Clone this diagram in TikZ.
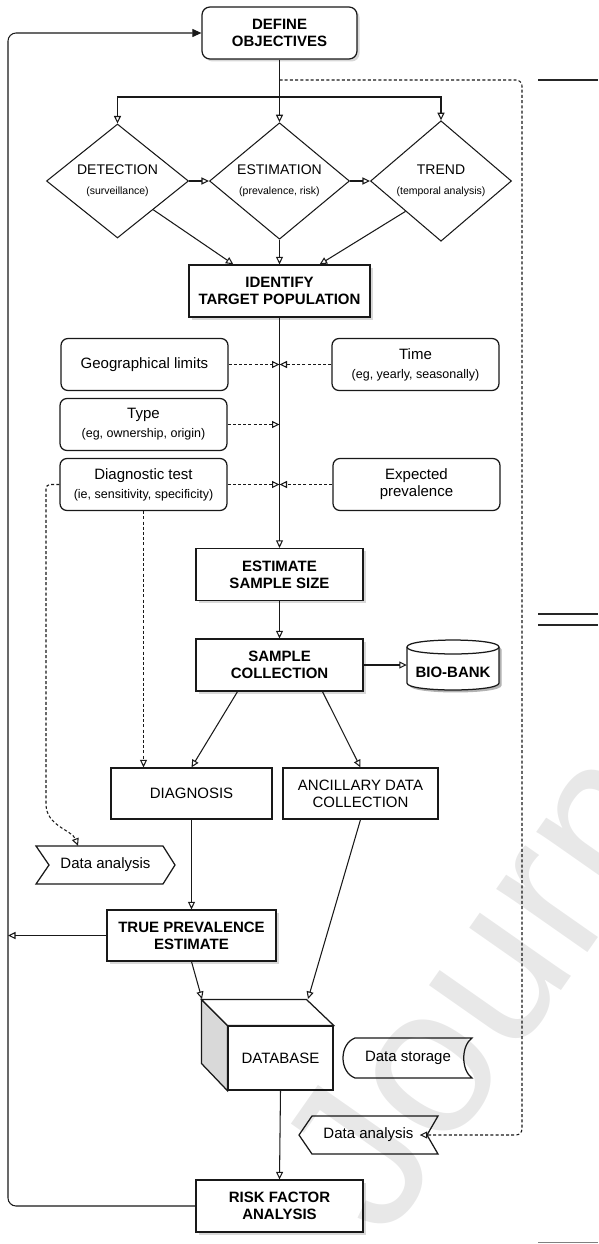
\documentclass[tikz,border=0pt]{standalone}
\usepackage{fontspec}
\setmainfont{Liberation Sans}
\usetikzlibrary{arrows.meta,shapes.geometric,shadows}
\newcommand\fmain{\fontsize{15}{17}\selectfont}
\newcommand\fsub{\fontsize{12.5}{14}\selectfont}
\newcommand\fdia{\fontsize{14}{16}\selectfont}
\newcommand\fdsub{\fontsize{10.5}{12}\selectfont}
\begin{document}
\begin{tikzpicture}[x=1pt,y=-1pt,
 ln/.style={line width=1.05pt, draw=black!90},
 box/.style={line width=1.25pt, draw=black!90, fill=white, minimum width=167pt, minimum height=52pt, inner sep=1pt, align=center, font=\fmain},
 shd/.style={drop shadow={shadow xshift=2.5pt, shadow yshift=-2.5pt, fill=black!30}},
 bbox/.style={box, shd, font=\fmain\bfseries},
 rbox/.style={box, rounded corners=7pt},
 dia/.style={ln, diamond, fill=white, minimum width=142pt, minimum height=114pt, inner sep=0pt, align=center, font=\fdia},
 con/.style={ln, -{Triangle[open, length=7.5pt, width=7pt]}},
 dcon/.style={con, dash pattern=on 3pt off 2.2pt},
 shp/.style={minimum width=139pt, minimum height=38pt, inner sep=0pt, font=\fmain},
]
\useasboundingbox[fill=white] (0,0) rectangle (598,1244);

% ---- nodes ----
\node[bbox, rounded corners=8pt, minimum width=155pt] (def) at (279.5,33) {DEFINE\\OBJECTIVES};
\node[dia] (det) at (117.5,181) {DETECTION\\[4pt]{\fdsub (surveillance)}};
\node[dia, minimum width=140pt] (esti) at (279.5,181) {ESTIMATION\\[4pt]{\fdsub (prevalence, risk)}};
\node[dia, minimum width=141pt] (trd) at (441,181) {TREND\\[4pt]{\fdsub (temporal analysis)}};
\node[bbox, minimum width=181pt] (idt) at (279.5,291) {IDENTIFY\\TARGET POPULATION};
\node[rbox] (geo) at (144.5,364.5) {Geographical limits};
\node[rbox] (tim) at (415.5,364.5) {Time\\[2pt]{\fsub (eg, yearly, seasonally)}};
\node[rbox] (typ) at (143.5,424.5) {Type\\[2pt]{\fsub (eg, ownership, origin)}};
\node[rbox] (dtest) at (143.5,484.5) {Diagnostic test\\[2pt]{\fsub (ie, sensitivity, specificity)}};
\node[rbox] (expv) at (416.5,484.5) {Expected\\prevalence};
\node[bbox] (ess) at (279.5,574.5) {ESTIMATE\\SAMPLE SIZE};
\node[bbox] (smp) at (279.5,665) {SAMPLE\\COLLECTION};

% bio-bank cylinder
\fill[black!30] (409.5,649.5) -- (409.5,685.5) .. controls (409.5,694.8) and (501.5,694.8) .. (501.5,685.5) -- (501.5,649.5) .. controls (501.5,640.2) and (409.5,640.2) .. (409.5,649.5) -- cycle;
\draw[line width=1.25pt, draw=black!90, fill=white] (407,647) -- (407,683) .. controls (407,692.3) and (499,692.3) .. (499,683) -- (499,647) .. controls (499,637.7) and (407,637.7) .. (407,647) -- cycle;
\draw[line width=1.25pt, draw=black!90] (407,647) .. controls (407,656.3) and (499,656.3) .. (499,647);
\node[minimum width=92pt, minimum height=40pt, inner sep=0pt, font=\fmain\bfseries] (bio) at (453,672) {BIO-BANK};

\node[box, minimum width=161pt, minimum height=51pt] (dgn) at (191.5,793.5) {DIAGNOSIS};
\node[box, minimum width=155pt, minimum height=51pt] (anc) at (360.5,793.5) {ANCILLARY DATA\\COLLECTION};

% data analysis (left)
\draw[line width=1.25pt, draw=black!90, fill=white] (36,846) -- (163,846) -- (175,865) -- (163,884) -- (36,884) -- (49,865) -- cycle;
\node[shp] (da1) at (105.5,865) {Data analysis};

\node[bbox, minimum width=169pt, minimum height=51pt] (tpe) at (191.5,935.5) {TRUE PREVALENCE\\ESTIMATE};

% database cube
\node[box, minimum width=105pt, minimum height=64pt] (db) at (280.5,1058) {DATABASE};
\draw[line width=1.25pt, draw=black!90, fill=black!15] (db.north west) -- ++(-26,-26) -- ++(0,64) -- (db.south west) -- cycle;
\draw[line width=1.25pt, draw=black!90, fill=white] (db.north west) -- ++(-26,-26) -- ++(105,0) -- (db.north east) -- cycle;
\coordinate (dbtl) at (202,999);
\coordinate (dbtr) at (308,999);

% data storage
\draw[line width=1.25pt, draw=black!90, fill=white] (355,1038) -- (472,1038) .. controls (461,1046) and (461,1070) .. (472,1078) -- (355,1078) .. controls (339,1072) and (339,1044) .. (355,1038) -- cycle;
\node[font=\fmain, inner sep=0pt] (ds) at (408,1058) {Data storage};

% data analysis (bottom)
\draw[line width=1.25pt, draw=black!90, fill=white] (312,1116) -- (438,1116) -- (427,1135) -- (438,1154) -- (312,1154) -- (299,1135) -- cycle;
\node[shp, minimum width=126pt] (da2) at (368.5,1135) {Data analysis};

\node[bbox] (rfa) at (279.5,1206) {RISK FACTOR\\ANALYSIS};

% ---- connectors ----
\coordinate (split) at (279.5,97);
\coordinate (dsplit) at (279.5,80);
\draw[con] (def.south) -- (esti.north);
\draw[con] (split) -| (det.north);
\draw[con] (split) -| (trd.north);
\draw[con] (det.east) -- (esti.west);
\draw[con] (esti.east) -- (trd.west);
\draw[con] (det.south east) -- ([xshift=45pt]idt.north west);
\draw[con] (esti.south) -- (idt.north);
\draw[con] (trd.south west) -- ([xshift=-51pt]idt.north east);
\draw[con] (idt.south) -- (ess.north);
\draw[dcon] (geo.east) -- (geo.east -| idt.south);
\draw[dcon] (tim.west) -- (tim.west -| idt.south);
\draw[dcon] (typ.east) -- (typ.east -| idt.south);
\draw[dcon] (dtest.east) -- (dtest.east -| idt.south);
\draw[dcon] (expv.west) -- (expv.west -| idt.south);
\draw[con] (ess.south) -- (smp.north);
\draw[con] (smp.east) -- (smp.east -| bio.west);
\draw[con] ([xshift=-42pt]smp.south) -- (dgn.north);
\draw[con] ([xshift=43pt]smp.south) -- (anc.north);
\draw[dcon] (dtest.south) -- (dtest.south |- dgn.north);
\coordinate (c1) at (46,484.5);
\coordinate (c2) at (46,800);
\draw[dcon] (dtest.west) [rounded corners=4pt] -- (c1) -- (c2) [sharp corners] .. controls (46,826) and (72,830) .. ([xshift=-27.5pt]da1.north);
\draw[con] (dgn.south) -- (tpe.north);
\coordinate (lpt) at (8,935.5);
\draw[con] (tpe.west) -- (lpt);
\draw[con] (tpe.south) -- (dbtl);
\draw[con] (anc.south) -- (dbtr);
\draw[con] (db.south) -- (rfa.north);
\coordinate (lb) at (8,1206);
\coordinate (lt) at (8,33);
\draw[ln, rounded corners=8pt, -{Triangle[length=9pt, width=8pt]}] (rfa.west) -- (lb) -- (lt) -- (def.west);
\coordinate (r1) at (522,80);
\coordinate (r2) at (522,1135);
\draw[dcon, rounded corners=6pt] (dsplit) -- (r1) -- (r2) -- ([xshift=-12pt]da2.east);

% page artefacts
\draw[line width=2.5pt, black!85] (538,80) -- (598,80);
\draw[line width=2pt, black!85] (538,614) -- (598,614);
\draw[line width=2pt, black!85] (538,625) -- (598,625);
\draw[line width=1.5pt, black!50] (538,1242.5) -- (598,1242.5);

% watermark
\begin{scope}
\clip (0,0) rectangle (598,1244);
\node[rotate=55, anchor=base west, text=black, text opacity=0.09, font=\fontsize{210}{210}\selectfont, inner sep=0pt] (wm) at (385,1242) {Journal Pre-proof};
\end{scope}
\end{tikzpicture}
\end{document}
